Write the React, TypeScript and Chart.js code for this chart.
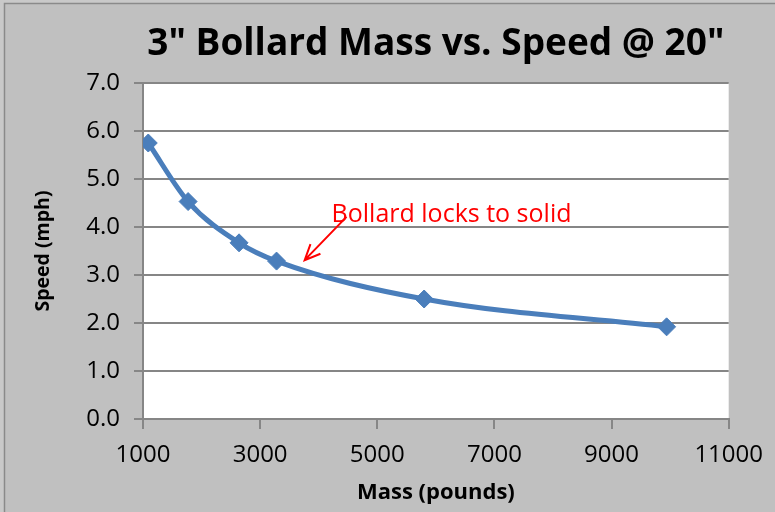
import React, { useEffect, useRef } from "react";
import { Chart, registerables } from "chart.js";

Chart.register(...registerables);

const massPounds = [1090, 1770, 2640, 3280, 5800, 9940];
const speedMph = [5.75, 4.53, 3.67, 3.29, 2.5, 1.92];
const chartTitle = '3" Bollard Mass vs. Speed @ 20"';
const xTitle = "Mass (pounds)";
const yTitle = "Speed (mph)";
const noteText = "Bollard locks to solid";
const noteAnchor = { x: 4220, y: 4.25 };
const arrowTail = { x: 4475, y: 4.21 };
const arrowHead = { x: 3760, y: 3.31 };

const GRID = "#868686";
const BLUE = "#4a7ebb";

const framePlugin = {
  id: "frame",
  beforeDraw(chart: any) {
    const { ctx, width, height, chartArea } = chart;
    ctx.save();
    ctx.fillStyle = "#c0c0c0";
    ctx.fillRect(0, 0, width, height);
    ctx.fillStyle = "#c9c9c9";
    ctx.fillRect(0, 0, 4, height);
    ctx.fillRect(0, 0, width, 3);
    ctx.strokeStyle = "#8a8a8a";
    ctx.lineWidth = 1.5;
    ctx.beginPath();
    ctx.moveTo(4.5, height);
    ctx.lineTo(4.5, 3.5);
    ctx.lineTo(width, 3.5);
    ctx.stroke();
    ctx.fillStyle = "#ffffff";
    ctx.fillRect(chartArea.left, chartArea.top, chartArea.right - chartArea.left, chartArea.bottom - chartArea.top);
    ctx.restore();
  },
};

const notePlugin = {
  id: "note",
  afterDatasetsDraw(chart: any) {
    const { ctx, scales } = chart;
    const xs = scales.x;
    const ys = scales.y;
    ctx.save();
    ctx.fillStyle = "#ff0000";
    ctx.font = "25px 'Open Sans'";
    ctx.textBaseline = "middle";
    ctx.textAlign = "left";
    ctx.fillText(noteText, xs.getPixelForValue(noteAnchor.x), ys.getPixelForValue(noteAnchor.y));
    const tx = xs.getPixelForValue(arrowTail.x);
    const ty = ys.getPixelForValue(arrowTail.y);
    const hx = xs.getPixelForValue(arrowHead.x);
    const hy = ys.getPixelForValue(arrowHead.y);
    ctx.strokeStyle = "#ff0000";
    ctx.lineWidth = 2;
    ctx.beginPath();
    ctx.moveTo(tx, ty);
    ctx.lineTo(hx, hy);
    const ang = Math.atan2(ty - hy, tx - hx);
    const len = 17;
    const spread = 0.42;
    ctx.moveTo(hx + len * Math.cos(ang - spread), hy + len * Math.sin(ang - spread));
    ctx.lineTo(hx, hy);
    ctx.lineTo(hx + len * Math.cos(ang + spread), hy + len * Math.sin(ang + spread));
    ctx.stroke();
    ctx.restore();
  },
};

export default function App() {
  const ref = useRef<HTMLCanvasElement | null>(null);
  useEffect(() => {
    if (!ref.current) return;
    const chart = new Chart(ref.current, {
      type: "line",
      data: {
        datasets: [
          {
            data: massPounds.map((m, i) => ({ x: m, y: speedMph[i] })),
            borderColor: BLUE,
            backgroundColor: BLUE,
            borderWidth: 5,
            pointStyle: "rectRot",
            pointRadius: 9,
            pointBorderWidth: 1,
            pointBackgroundColor: BLUE,
            pointBorderColor: BLUE,
            cubicInterpolationMode: "monotone",
            fill: false,
          },
        ],
      },
      options: {
        responsive: false,
        animation: false,
        layout: { padding: { left: 0, right: 45, top: 0, bottom: 0 } },
        plugins: {
          legend: { display: false },
          tooltip: { enabled: false },
          title: {
            display: true,
            text: chartTitle,
            fullSize: false,
            color: "#000000",
            font: { family: "'Liberation Sans Narrow', 'Open Sans', sans-serif", size: 37, weight: "bold" },
            padding: { top: 22, bottom: 16.6 },
          },
        },
        scales: {
          x: {
            type: "linear",
            min: 1000,
            max: 11000,
            afterFit(scale: any) {
              scale.height = 93;
            },
            ticks: {
              stepSize: 2000,
              color: "#000000",
              font: { family: "'Open Sans', sans-serif", size: 24 },
              padding: 12,
              maxRotation: 0,
              callback: (v: any) => String(v),
            },
            grid: {
              drawOnChartArea: false,
              drawTicks: true,
              tickLength: 10,
              color: GRID,
              lineWidth: 2,
            },
            border: { display: true, color: GRID, width: 2 },
            title: {
              display: true,
              text: xTitle,
              color: "#000000",
              font: { family: "'Open Sans', sans-serif", size: 22, weight: "bold" },
              padding: { top: 0, bottom: 6 },
            },
          },
          y: {
            type: "linear",
            min: 0,
            max: 7,
            afterFit(scale: any) {
              scale.width = 143;
            },
            ticks: {
              stepSize: 1,
              color: "#000000",
              font: { family: "'Open Sans', sans-serif", size: 24 },
              padding: 14,
              callback: (v: any) => Number(v).toFixed(1),
            },
            grid: {
              drawOnChartArea: true,
              drawTicks: true,
              tickLength: 9,
              color: GRID,
              lineWidth: 2,
            },
            border: { display: true, color: GRID, width: 2 },
            title: {
              display: true,
              text: yTitle,
              color: "#000000",
              font: { family: "'Open Sans', sans-serif", size: 19.5, weight: "bold" },
              padding: { top: 32, bottom: 0 },
            },
          },
        },
      },
      plugins: [framePlugin, notePlugin],
    });
    return () => chart.destroy();
  }, []);
  return (
    <div style={{ position: "fixed", left: 0, top: 0, width: 775, height: 512 }}>
      <canvas ref={ref} width={775} height={512} />
    </div>
  );
}
